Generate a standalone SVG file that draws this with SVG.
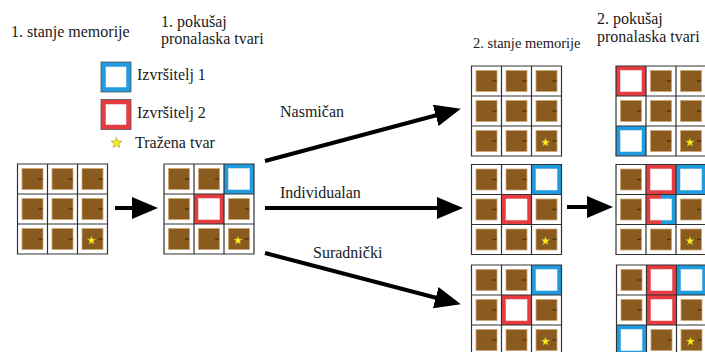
<svg xmlns="http://www.w3.org/2000/svg" xmlns:xlink="http://www.w3.org/1999/xlink" width="705" height="352" viewBox="0 0 705 352">
<style>
text{font-family:"Liberation Serif","Times New Roman",serif;font-size:16px;fill:#1a1a1a}
.bg{fill:#ffffff}
.br{fill:#8b5a1f;stroke:#caa674;stroke-width:0.8}
.dash{stroke:#4a3418;stroke-width:1.4}
.gl{fill:none;stroke:#333333;stroke-width:1.2}
.blue{fill:#1f9be0}
.red{fill:#e63b40}
.inner{fill:#ffffff;stroke:#f0f0f0;stroke-width:0.6}
.star{fill:#ffee1a;stroke:#9a9a20;stroke-width:0.5}
.arr{fill:none;stroke:#000000;stroke-width:4;marker-end:url(#ah)}
.lg{stroke:#555555;stroke-width:0.8}
</style>
<defs>
<marker id="ah" markerUnits="userSpaceOnUse" markerWidth="26" markerHeight="22" refX="21" refY="11" orient="auto" viewBox="0 0 26 22">
<path d="M0,0 L26,11 L0,22 Z" fill="#000000"/>
</marker>
<g id="b"><rect class="br" x="4.5" y="4.5" width="21" height="21"/><path class="dash" d="M21,15H25"/></g>
<polygon id="st" class="star" points="0,-4.5 1.12,-1.54 4.28,-1.39 1.81,0.59 2.65,3.64 0,1.9 -2.65,3.64 -1.81,0.59 -4.28,-1.39 -1.12,-1.54"/>
<path id="lines" class="gl" d="M0,0H90V90H0Z M30,0V90 M60,0V90 M0,30H90 M0,60H90"/>
<rect id="wh" class="inner" x="4.5" y="4.5" width="21" height="21"/>
</defs>

<g id="labels">
<text x="11" y="37">1. stanje memorije</text>
<text x="161" y="27">1. pokušaj</text>
<text x="161" y="44">pronalaska tvari</text>
<text x="473" y="48" style="font-size:14.5px">2. stanje memorije</text>
<text x="597" y="24">2. pokušaj</text>
<text x="597" y="42">pronalaska tvari</text>
</g>

<g id="legend">
<rect class="blue lg" x="101" y="62" width="30" height="30"/>
<rect class="inner" x="106" y="67" width="20" height="20"/>
<text x="137" y="80">Izvršitelj 1</text>
<rect class="red lg" x="101" y="99.5" width="30" height="30"/>
<rect class="inner" x="106" y="104.5" width="20" height="20"/>
<text x="137" y="118">Izvršitelj 2</text>
<use xlink:href="#st" transform="translate(116.5,143) scale(1.25)"/>
<text x="135" y="148">Tražena tvar</text>
</g>

<g id="grid1" transform="translate(17.5,164)">
<rect class="bg" width="90" height="90"/>
<use xlink:href="#b" x="0" y="0"/><use xlink:href="#b" x="30" y="0"/><use xlink:href="#b" x="60" y="0"/>
<use xlink:href="#b" x="0" y="30"/><use xlink:href="#b" x="30" y="30"/><use xlink:href="#b" x="60" y="30"/>
<use xlink:href="#b" x="0" y="60"/><use xlink:href="#b" x="30" y="60"/><use xlink:href="#b" x="60" y="60"/>
<use xlink:href="#st" x="74" y="76.5"/>
<use xlink:href="#lines"/>
</g>

<g id="grid2" transform="translate(164,164)">
<rect class="bg" width="90" height="90"/>
<use xlink:href="#b" x="0" y="0"/><use xlink:href="#b" x="30" y="0"/>
<rect class="blue" x="60" y="0" width="30" height="30"/><use xlink:href="#wh" x="60" y="0"/>
<use xlink:href="#b" x="0" y="30"/>
<rect class="red" x="30" y="30" width="30" height="30"/><use xlink:href="#wh" x="30" y="30"/>
<use xlink:href="#b" x="60" y="30"/>
<use xlink:href="#b" x="0" y="60"/><use xlink:href="#b" x="30" y="60"/><use xlink:href="#b" x="60" y="60"/>
<use xlink:href="#st" x="74" y="76.5"/>
<use xlink:href="#lines"/>
</g>

<g id="grid3" transform="translate(471.5,66)">
<rect class="bg" width="90" height="90"/>
<use xlink:href="#b" x="0" y="0"/><use xlink:href="#b" x="30" y="0"/><use xlink:href="#b" x="60" y="0"/>
<use xlink:href="#b" x="0" y="30"/><use xlink:href="#b" x="30" y="30"/><use xlink:href="#b" x="60" y="30"/>
<use xlink:href="#b" x="0" y="60"/><use xlink:href="#b" x="30" y="60"/><use xlink:href="#b" x="60" y="60"/>
<use xlink:href="#st" x="74" y="76.5"/>
<use xlink:href="#lines"/>
</g>

<g id="grid4" transform="translate(616,66)">
<rect class="bg" width="90" height="90"/>
<rect class="red" x="0" y="0" width="30" height="30"/><use xlink:href="#wh" x="0" y="0"/>
<use xlink:href="#b" x="30" y="0"/><use xlink:href="#b" x="60" y="0"/>
<use xlink:href="#b" x="0" y="30"/><use xlink:href="#b" x="30" y="30"/><use xlink:href="#b" x="60" y="30"/>
<rect class="blue" x="0" y="60" width="30" height="30"/><use xlink:href="#wh" x="0" y="60"/>
<use xlink:href="#b" x="30" y="60"/><use xlink:href="#b" x="60" y="60"/>
<use xlink:href="#st" x="74" y="76.5"/>
<use xlink:href="#lines"/>
</g>

<g id="grid5" transform="translate(471.5,164.5)">
<rect class="bg" width="90" height="90"/>
<use xlink:href="#b" x="0" y="0"/><use xlink:href="#b" x="30" y="0"/>
<rect class="blue" x="60" y="0" width="30" height="30"/><use xlink:href="#wh" x="60" y="0"/>
<use xlink:href="#b" x="0" y="30"/>
<rect class="red" x="30" y="30" width="30" height="30"/><use xlink:href="#wh" x="30" y="30"/>
<use xlink:href="#b" x="60" y="30"/>
<use xlink:href="#b" x="0" y="60"/><use xlink:href="#b" x="30" y="60"/><use xlink:href="#b" x="60" y="60"/>
<use xlink:href="#st" x="74" y="76.5"/>
<use xlink:href="#lines"/>
</g>

<g id="grid6" transform="translate(616,164.5)">
<rect class="bg" width="90" height="90"/>
<use xlink:href="#b" x="0" y="0"/>
<rect class="red" x="30" y="0" width="30" height="30"/><use xlink:href="#wh" x="30" y="0"/>
<rect class="blue" x="60" y="0" width="30" height="30"/><use xlink:href="#wh" x="60" y="0"/>
<use xlink:href="#b" x="0" y="30"/>
<rect class="red" x="30" y="30" width="15" height="30"/><rect class="blue" x="45" y="30" width="15" height="30"/><use xlink:href="#wh" x="30" y="30"/>
<use xlink:href="#b" x="60" y="30"/>
<use xlink:href="#b" x="0" y="60"/><use xlink:href="#b" x="30" y="60"/><use xlink:href="#b" x="60" y="60"/>
<use xlink:href="#st" x="74" y="76.5"/>
<use xlink:href="#lines"/>
</g>

<g id="grid7" transform="translate(471.5,265)">
<rect class="bg" width="90" height="90"/>
<use xlink:href="#b" x="0" y="0"/><use xlink:href="#b" x="30" y="0"/>
<rect class="blue" x="60" y="0" width="30" height="30"/><use xlink:href="#wh" x="60" y="0"/>
<use xlink:href="#b" x="0" y="30"/>
<rect class="red" x="30" y="30" width="30" height="30"/><use xlink:href="#wh" x="30" y="30"/>
<use xlink:href="#b" x="60" y="30"/>
<use xlink:href="#b" x="0" y="60"/><use xlink:href="#b" x="30" y="60"/><use xlink:href="#b" x="60" y="60"/>
<use xlink:href="#st" x="74" y="76.5"/>
<use xlink:href="#lines"/>
</g>

<g id="grid8" transform="translate(616.5,265)">
<rect class="bg" width="90" height="90"/>
<use xlink:href="#b" x="0" y="0"/>
<rect class="red" x="30" y="0" width="30" height="30"/><use xlink:href="#wh" x="30" y="0"/>
<rect class="blue" x="60" y="0" width="30" height="30"/><use xlink:href="#wh" x="60" y="0"/>
<use xlink:href="#b" x="0" y="30"/>
<rect class="red" x="30" y="30" width="30" height="30"/><use xlink:href="#wh" x="30" y="30"/>
<use xlink:href="#b" x="60" y="30"/>
<rect class="blue" x="0" y="60" width="30" height="30"/><use xlink:href="#wh" x="0" y="60"/>
<use xlink:href="#b" x="30" y="60"/><use xlink:href="#b" x="60" y="60"/>
<use xlink:href="#st" x="74" y="76.5"/>
<use xlink:href="#lines"/>
</g>

<g id="connectors">
<line class="arr" x1="115" y1="208" x2="153" y2="208"/>
<line class="arr" x1="265" y1="161" x2="456" y2="110"/>
<line class="arr" x1="265" y1="208" x2="458" y2="208"/>
<line class="arr" x1="265" y1="253" x2="456" y2="303"/>
<line class="arr" x1="567" y1="207" x2="608" y2="207"/>
<text x="280" y="117">Nasmičan</text>
<text x="280" y="198">Individualan</text>
<text x="313" y="258">Suradnički</text>
</g>
</svg>
